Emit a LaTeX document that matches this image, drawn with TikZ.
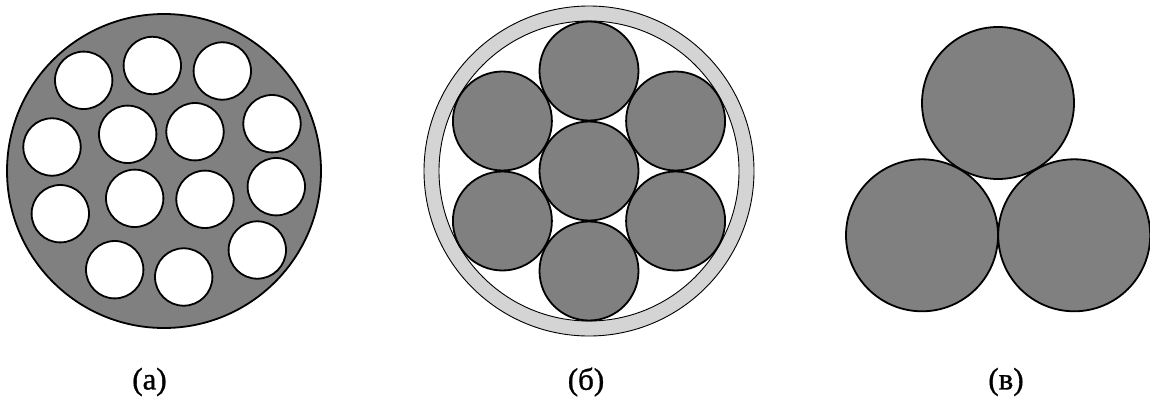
\documentclass[tikz,border=0pt]{standalone}
\usepackage{fontspec}
\setmainfont{Liberation Serif}
\newfontfamily\lblfont[FakeBold=1]{Liberation Serif}
\usetikzlibrary{calc}
\definecolor{fillgray}{HTML}{808080}
\definecolor{ringgray}{HTML}{D4D4D4}
\tikzset{
  body/.style={draw=black, line width=1.8pt, fill=fillgray},
  hole/.style={draw=black, line width=1.8pt, fill=white},
  wire/.style={draw=black, line width=1.8pt, fill=fillgray},
  sheath/.style={draw=black, line width=0.9pt, fill=ringgray, even odd rule},
  lbl/.style={font=\lblfont\fontsize{31}{33}\selectfont, inner sep=0pt}
}
\begin{document}
\begin{tikzpicture}[x=1pt,y=-1pt]
\useasboundingbox (0,0) rectangle (1150,399);
% (a)
\draw[body] (164,171) circle (157);
\foreach \x/\y in {83.7/80.3, 152.3/65.5, 222.3/71, 272/123.7,
                   52/147, 127.7/134.3, 195/131.7, 276.3/186.7,
                   60.3/213.7, 134.7/198.3, 205/199.3, 257.3/250,
                   114.7/269.7, 183.7/277}
  \draw[hole] (\x,\y) circle (28.7);
% (б)
\coordinate (cb) at (589,171);
\draw[sheath] (cb) circle (165) (cb) circle (150);
\draw[wire] (cb) circle (49.5);
\foreach \a in {30,90,150,210,270,330}
  \draw[wire] ($(cb)+(\a:100)$) circle (49.5);
% (в)
\draw[wire] (998,103) circle (76);
\draw[wire] (922,235.3) circle (76);
\draw[wire] (1074.2,235.3) circle (76);
% labels
\node[lbl] (la) at (149.5,382) {(а)};
\node[lbl] (lb) at (586,382) {(б)};
\node[lbl] (lc) at (1006,382) {(в)};
\end{tikzpicture}
\end{document}
